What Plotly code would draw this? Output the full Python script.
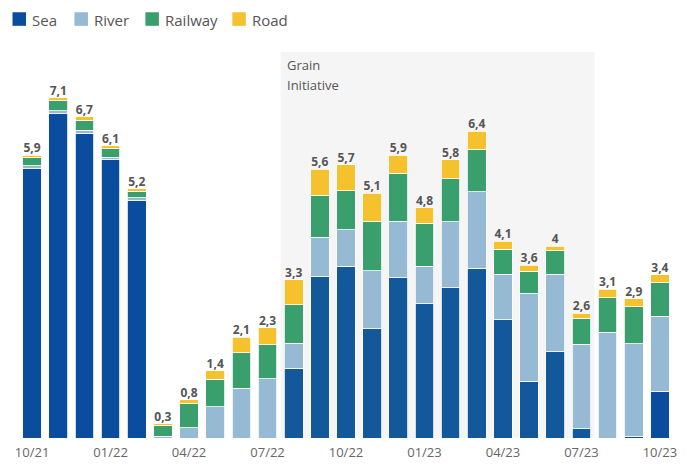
import plotly.graph_objects as go

months = ["10/21", "11/21", "12/21", "01/22", "02/22", "03/22", "04/22", "05/22",
          "06/22", "07/22", "08/22", "09/22", "10/22", "11/22", "12/22", "01/23",
          "02/23", "03/23", "04/23", "05/23", "06/23", "07/23", "08/23", "09/23", "10/23"]
sea = [5.62, 6.76, 6.36, 5.80, 4.95, 0.00, 0.00, 0.00, 0.00, 0.00, 1.45, 3.36, 3.58,
       2.28, 3.34, 2.80, 3.13, 3.54, 2.47, 1.18, 1.80, 0.19, 0.00, 0.04, 0.98]
river = [0.06, 0.07, 0.06, 0.06, 0.06, 0.04, 0.21, 0.65, 1.04, 1.24, 0.53, 0.83, 0.76,
         1.21, 1.18, 0.78, 1.38, 1.60, 0.95, 1.84, 1.62, 1.77, 2.21, 1.93, 1.56]
railway = [0.16, 0.20, 0.21, 0.17, 0.14, 0.22, 0.50, 0.58, 0.74, 0.70, 0.80, 0.87, 0.82,
           1.03, 1.00, 0.90, 0.90, 0.88, 0.52, 0.46, 0.49, 0.54, 0.71, 0.77, 0.70]
road = [0.06, 0.07, 0.07, 0.07, 0.05, 0.04, 0.09, 0.17, 0.32, 0.36, 0.52, 0.54, 0.54,
        0.58, 0.38, 0.32, 0.39, 0.38, 0.16, 0.12, 0.09, 0.10, 0.18, 0.16, 0.16]
totals = [5.9, 7.1, 6.7, 6.1, 5.2, 0.3, 0.8, 1.4, 2.1, 2.3, 3.3, 5.6, 5.7, 5.1, 5.9,
          4.8, 5.8, 6.4, 4.1, 3.6, 4, 2.6, 3.1, 2.9, 3.4]
tick_labels = ["10/21", "01/22", "04/22", "07/22", "10/22", "01/23", "04/23", "07/23", "10/23"]
series_names = ["Sea", "River", "Railway", "Road"]
grain_start, grain_end = "08/22", "07/23"
grain_label = ["Grain", "Initiative"]

W, H = 699, 464
ML, MR, MT, MB = 18.5, 26, 52, 25.5
PW, PH = W - ML - MR, H - MT - MB

def px_x(px):  # figure pixel -> paper coordinate
    return (px - ML) / PW

def px_y(py):
    return (H - MB - py) / PH

x = list(range(len(months)))
i0, i1 = months.index(grain_start), months.index(grain_end)

SEA, RIVER, RAIL, ROAD = "#0a4d9e", "#96b9d4", "#389f6d", "#f5c12c"
colors = [SEA, RIVER, RAIL, ROAD]
sea_colors = ["#14589c" if i0 <= i <= i1 else SEA for i in x]

fig = go.Figure()
for name, vals, col in zip(series_names, [sea, river, railway, road],
                           [sea_colors, RIVER, RAIL, ROAD]):
    fig.add_trace(go.Bar(x=x, y=vals, name=name, showlegend=False,
                         marker=dict(color=col, line=dict(color="white", width=0.8)),
                         hoverinfo="skip"))

fig.add_trace(go.Scatter(
    x=x, y=totals, mode="text", showlegend=False,
    text=[f"{v:g}".replace(".", ",") for v in totals],
    textposition="top center",
    textfont=dict(family="Open Sans", size=12, color="#555555", weight="bold"),
    hoverinfo="skip"))

fig.add_shape(type="rect", xref="x", yref="paper", x0=i0 - 0.5, x1=i1 + 0.5,
              y0=0, y1=1, fillcolor="#f5f5f5", line=dict(width=0), layer="below")
for k, line in enumerate(grain_label):
    fig.add_annotation(xref="x", yref="paper", x=i0 - 0.5, y=px_y(65 + 20 * k),
                       xanchor="left", yanchor="middle", xshift=4, showarrow=False,
                       text=line, font=dict(family="Open Sans", size=13, color="#555555"))

# legend drawn as squares + text labels
legend_left = [12, 74, 145, 232]
for name, col, lx in zip(series_names, colors, legend_left):
    fig.add_shape(type="rect", xref="paper", yref="paper",
                  x0=px_x(lx), x1=px_x(lx + 13.5), y0=px_y(25.8), y1=px_y(12.2),
                  fillcolor=col, line=dict(width=0), layer="above")
    fig.add_annotation(xref="paper", yref="paper", x=px_x(lx + 17.5), y=px_y(19.5),
                       xanchor="left", yanchor="middle", showarrow=False, text=name,
                       font=dict(family="Open Sans", size=15, color="#555555"))

fig.update_layout(
    width=W, height=H,
    margin=dict(l=ML, r=MR, t=MT, b=MB, autoexpand=False),
    barmode="stack", bargap=0.286,
    plot_bgcolor="white", paper_bgcolor="white",
    font=dict(family="Open Sans", color="#555555"),
    showlegend=False,
    xaxis=dict(tickmode="array", tickvals=[months.index(t) for t in tick_labels],
               ticktext=tick_labels, range=[-0.5, len(months) - 0.5],
               showgrid=False, zeroline=False, showline=False, ticks="",
               automargin=False, ticklabelstandoff=5,
               tickfont=dict(family="Open Sans", size=13, color="#666666")),
    yaxis=dict(range=[0, 8.05], visible=False, showgrid=False, zeroline=False,
               automargin=False),
)

page_css = ("var d=document.documentElement,b=document.body;"
            "d.style.margin='0';d.style.overflow='hidden';d.style.height='464px';"
            "b.style.margin='0';b.style.overflow='hidden';b.style.height='464px';")
fig.write_html("out.html", config={"displayModeBar": False, "staticPlot": True},
               post_script=page_css)
